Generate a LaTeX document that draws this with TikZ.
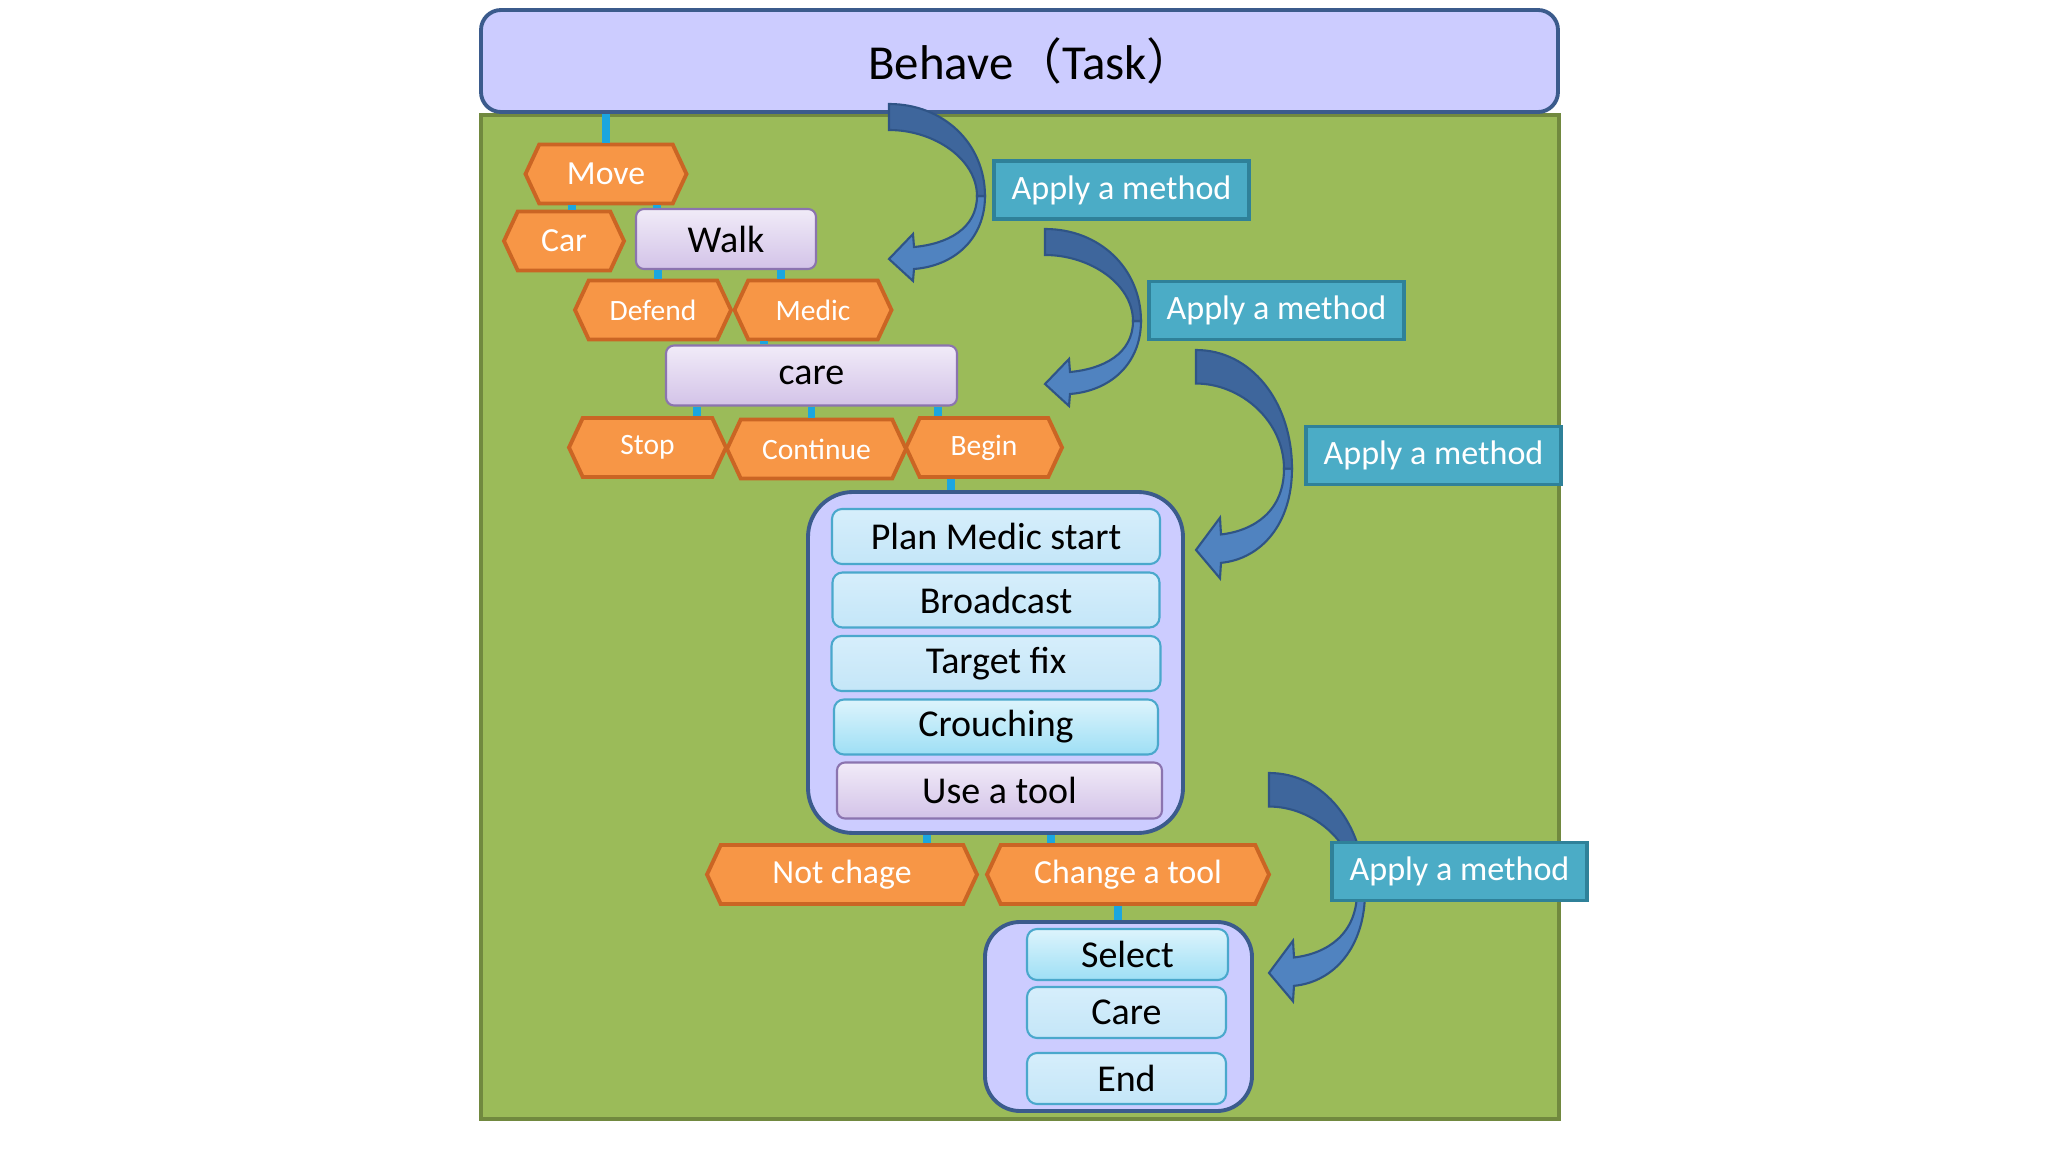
\documentclass[tikz,border=0pt]{standalone}
\usepackage{fontspec}
\setmainfont{Carlito}
\newfontfamily\cjk{Noto Sans CJK SC}
\usepackage{xcolor}
\usetikzlibrary{shapes.symbols, positioning}

\definecolor{lav}{HTML}{CCCCFF}
\definecolor{navyline}{HTML}{3B5B8C}
\definecolor{grass}{HTML}{9BBB59}
\definecolor{grassline}{HTML}{71893F}
\definecolor{hexfill}{HTML}{F79646}
\definecolor{hexline}{HTML}{CA6524}
\definecolor{lilactop}{HTML}{F1EBF8}
\definecolor{lilacbot}{HTML}{D3C3E8}
\definecolor{lilacline}{HTML}{8B74AF}
\definecolor{skytop}{HTML}{D6EEFB}
\definecolor{skybot}{HTML}{C4E6F8}
\definecolor{aquatop}{HTML}{DDF4FC}
\definecolor{aquabot}{HTML}{9EDFF5}
\definecolor{tealline}{HTML}{4AA8CC}
\definecolor{methodfill}{HTML}{4BACC6}
\definecolor{methodline}{HTML}{2F8199}
\definecolor{linkblue}{HTML}{1BA6E0}
\definecolor{arrowdark}{HTML}{3E669C}
\definecolor{arrowlight}{HTML}{5083C0}
\definecolor{arrowline}{HTML}{2F5486}

\tikzset{
  header/.style={draw=navyline, fill=lav, line width=1.1pt, rounded corners=0.2cm,
    minimum width=10.77cm, minimum height=1.02cm, font=\fontsize{13.9}{16}\selectfont},
  panel/.style={draw=navyline, fill=lav, line width=1.1pt, rounded corners=0.45cm},
  hexa/.style={signal, signal to=west and east, signal pointer angle=130,
    draw=hexline, fill=hexfill, line width=1.1pt, text=white, inner sep=0pt,
    minimum height=0.59cm, font=\fontsize{9.6}{11}\selectfont},
  hexsmall/.style={hexa, font=\fontsize{8.4}{10}\selectfont},
  lilac/.style={draw=lilacline, top color=lilactop, bottom color=lilacbot, line width=0.6pt,
    rounded corners=0.08cm, minimum height=0.6cm, inner sep=0pt, font=\fontsize{10.8}{13}\selectfont},
  stepbox/.style={draw=tealline, top color=skytop, bottom color=skybot, line width=0.6pt,
    rounded corners=0.1cm, minimum height=0.55cm, inner sep=0pt, font=\fontsize{10.8}{13}\selectfont},
  aqua/.style={stepbox, top color=aquatop, bottom color=aquabot},
  method/.style={draw=methodline, fill=methodfill, line width=1pt, text=white,
    minimum width=2.55cm, minimum height=0.58cm, inner sep=0pt, font=\fontsize{9.7}{11}\selectfont},
  link/.style={draw=linkblue, line width=2.2pt},
  pics/turnarrow/.style={code={
    \filldraw[fill=arrowlight, draw=arrowline, line width=0.6pt]
      (0.96,0.92) .. controls (0.96,1.35) and (0.65,1.62) .. (0.25,1.65)
      -- (0.24,1.77) -- (0,1.55) -- (0.24,1.30) -- (0.25,1.43)
      .. controls (0.58,1.40) and (0.88,1.25) .. (0.88,0.92) -- cycle;
    \filldraw[fill=arrowdark, draw=arrowline, line width=0.6pt]
      (0,0) .. controls (0.55,0) and (0.96,0.40) .. (0.96,0.92)
      -- (0.88,0.92) .. controls (0.88,0.55) and (0.45,0.26) .. (0,0.26) -- cycle;
  }}
}

\begin{document}
\begin{tikzpicture}[x=1cm, y=-1cm]
  \useasboundingbox (0,0) rectangle (20.48,11.52);

  % backdrop and task header
  \draw[fill=grass, draw=grassline, line width=1pt] (4.81,1.15) rectangle (15.59,11.19);
  \node[header] (task) at (10.195,0.61) {\hspace*{0.25cm}Behave{\cjk （}Task{\cjk ）}};

  % first levels
  \node[hexa, minimum width=1.61cm] (move) at (6.06,1.74) {Move};
  \node[hexa, minimum width=1.20cm] (car) at (5.64,2.41) {Car};
  \node[lilac, minimum width=1.80cm] (walk) at (7.26,2.39) {Walk};
  \node[hexsmall, minimum width=1.56cm] (defend) at (6.53,3.10) {Defend};
  \node[hexsmall, minimum width=1.57cm] (medic) at (8.13,3.10) {Medic};
  \node[lilac, minimum width=2.91cm] (care) at (8.115,3.755) {care};
  \node[hexsmall, minimum width=1.57cm] (stop) at (6.475,4.475) {Stop};
  \node[hexsmall, minimum width=1.79cm] (continue) at (8.165,4.49) {Continue};
  \node[hexsmall, minimum width=1.56cm] (begin) at (9.84,4.475) {Begin};

  % medic plan
  \node[panel, minimum width=3.75cm, minimum height=3.41cm] (plan box) at (9.955,6.625) {};
  \begin{scope}[node distance=0.635cm]
    \node[stepbox, minimum width=3.28cm] (plan) at (9.96,5.365) {Plan Medic start};
    \node[stepbox, minimum width=3.27cm, below of=plan] (broadcast) {Broadcast};
    \node[stepbox, minimum width=3.29cm, below of=broadcast] (target) {Target fix};
    \node[aqua, minimum width=3.24cm, below of=target] (crouch) {Crouching};
    \node[lilac, minimum width=3.25cm, minimum height=0.56cm, below of=crouch, xshift=0.035cm] (tool) {Use a tool};
  \end{scope}

  \node[hexa, minimum width=2.70cm] (keep) at (8.42,8.745) {Not chage};
  \node[hexa, minimum width=2.82cm] (change) at (11.28,8.745) {Change a tool};

  % tool change
  \node[panel, minimum width=2.67cm, minimum height=1.89cm, rounded corners=0.35cm] (change box) at (11.185,10.165) {};
  \node[aqua, minimum width=2.01cm, minimum height=0.51cm] (select) at (11.275,9.545) {Select};
  \node[stepbox, minimum width=1.99cm, minimum height=0.51cm] (care step) at (11.265,10.125) {Care};
  \node[stepbox, minimum width=1.99cm, minimum height=0.51cm] (end) at (11.265,10.785) {End};

  % links
  \draw[link] (move.north |- task.south) -- (move.north);
  \draw[link] ([xshift=0.08cm]car.north) -- ([xshift=0.08cm]car.north |- move.south);
  \draw[link] ([xshift=0.51cm]move.south) -- ([xshift=0.51cm]move.south |- walk.north);
  \draw[link] ([xshift=-0.68cm]walk.south) -- ([xshift=-0.68cm]walk.south |- defend.north);
  \draw[link] ([xshift=0.55cm]walk.south) -- ([xshift=0.55cm]walk.south |- medic.north);
  \draw[link] ([xshift=-0.49cm]medic.south) -- ([xshift=-0.49cm]medic.south |- care.north);
  \draw[link] ([xshift=-1.145cm]care.south) -- ([xshift=-1.145cm]care.south |- stop.north);
  \draw[link] (care.south) -- (care.south |- continue.north);
  \draw[link] ([xshift=1.265cm]care.south) -- ([xshift=1.265cm]care.south |- begin.north);
  \draw[link] ([xshift=-0.33cm]begin.south) -- ([xshift=-0.33cm]begin.south |- plan box.north);
  \draw[link] ([xshift=-0.685cm]plan box.south) -- ([xshift=-0.685cm]plan box.south |- keep.north);
  \draw[link] ([xshift=0.555cm]plan box.south) -- ([xshift=0.555cm]plan box.south |- change.north);
  \draw[link] ([xshift=-0.10cm]change.south) -- ([xshift=-0.10cm]change.south |- change box.north);

  % curved arrows
  \pic at (8.89,1.04) {turnarrow};
  \pic at (10.45,2.29) {turnarrow};
  \pic[yscale=1.29] at (11.96,3.50) {turnarrow};
  \pic[yscale=1.29] at (12.69,7.73) {turnarrow};

  % method labels
  \node[method] (method a) at (11.215,1.90) {Apply a method};
  \node[method] (method b) at (12.765,3.105) {Apply a method};
  \node[method] (method c) at (14.335,4.555) {Apply a method};
  \node[method] (method d) at (14.595,8.715) {Apply a method};
\end{tikzpicture}
\end{document}
